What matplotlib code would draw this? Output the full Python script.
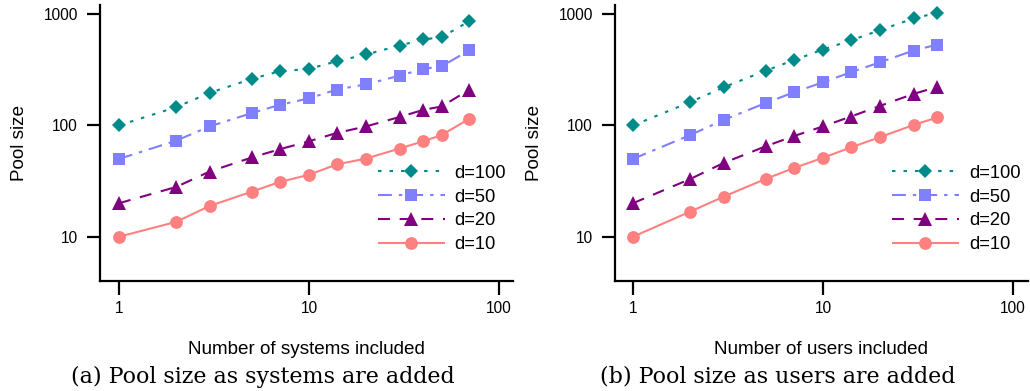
import matplotlib
matplotlib.use("Agg")
import matplotlib.pyplot as plt

# ---------------- data ----------------
series_labels = ["d=100", "d=50", "d=20", "d=10"]

systems_x = [1, 2, 3, 5, 7, 10, 14, 20, 30, 40, 50, 70]
sys_d100 = [100, 146, 196, 262, 306, 322, 377, 434, 522, 592, 621, 865]
sys_d50 = [50, 73, 98, 129, 153, 175, 210, 234, 280, 322, 340, 474]
sys_d20 = [20, 28, 38.5, 51.5, 61, 72, 85.5, 98, 119, 138, 148, 210]
sys_d10 = [10, 13.6, 18.9, 25.4, 31, 36, 44.6, 50.4, 62, 72, 82, 115]

users_x = [1, 2, 3, 5, 7, 10, 14, 20, 30, 40]
usr_d100 = [100, 162, 220, 311, 385, 481, 580, 718, 915, 1028]
usr_d50 = [50, 82, 112, 159, 198, 244, 300, 370, 471, 533]
usr_d20 = [20, 33, 46, 65, 80, 98, 120, 150, 192, 222]
usr_d10 = [10, 16.8, 22.9, 33.1, 41.3, 51.2, 63.4, 78.6, 101, 118]

x_ticks = [1, 10, 100]
x_tick_labels = ["1", "10", "100"]
y_ticks = [10, 100, 1000]
y_tick_labels = ["10", "100", "1000"]

xlabels = ["Number of systems included", "Number of users included"]
ylabel = "Pool size"
captions = ["(a) Pool size as systems are added", "(b) Pool size as users are added"]

# ---------------- style ----------------
plt.rcParams["font.family"] = ["Liberation Sans", "DejaVu Sans"]
plt.rcParams["lines.scale_dashes"] = False

styles = [
    dict(color="#008B8B", marker="D", ms=6.8, dashes=(2.5, 5.8)),
    dict(color="#8080FF", marker="s", ms=9.0, dashes=(10, 5, 2.5, 5)),
    dict(color="#800080", marker="^", ms=9.5, dashes=(8.6, 7.0)),
    dict(color="#FF8080", marker="o", ms=9.2, dashes=None),
]

fig = plt.figure(figsize=(10.3, 3.91), dpi=100)
W, H = 1030, 391
axes_px = [(100, 5, 413, 276), (615, 5, 413, 276)]
xlims = [(0.794, 118.7), (0.804, 120.0)]
ylim = (4.0, 1208)

panels = [
    (systems_x, [sys_d100, sys_d50, sys_d20, sys_d10]),
    (users_x, [usr_d100, usr_d50, usr_d20, usr_d10]),
]
leg_x = [0.672, 0.670]
cap_x = [263, 778]

for i, (xs, ys_list) in enumerate(panels):
    l, t, w, h = axes_px[i]
    ax = fig.add_axes([l / W, (H - t - h) / H, w / W, h / H])
    for lab, ys, st in zip(series_labels, ys_list, styles):
        line, = ax.plot(xs, ys, color=st["color"], marker=st["marker"],
                        markersize=st["ms"], markeredgewidth=0,
                        linewidth=1.5, label=lab, solid_capstyle="butt",
                        dash_capstyle="butt")
        if st["dashes"] is not None:
            line.set_dashes(st["dashes"])
    ax.set_xscale("log")
    ax.set_yscale("log")
    ax.set_xlim(*xlims[i])
    ax.set_ylim(*ylim)
    ax.set_xticks(x_ticks, x_tick_labels)
    ax.set_yticks(y_ticks, y_tick_labels)
    ax.minorticks_off()
    for s in ("top", "right"):
        ax.spines[s].set_visible(False)
    for s in ("left", "bottom"):
        ax.spines[s].set_linewidth(1.6)
    ax.tick_params(axis="both", which="major", direction="out", width=1.6,
                   labelsize=11.2)
    ax.tick_params(axis="x", length=10, pad=4.5)
    ax.tick_params(axis="y", length=9.4, pad=6.5)
    ax.set_xlabel(xlabels[i], fontsize=13.6)
    ax.xaxis.set_label_coords(0.5, (281 - 349) / 276)
    ax.xaxis.label.set_verticalalignment("center")
    ax.set_ylabel(ylabel, fontsize=13.6)
    ax.yaxis.set_label_coords(-0.196, 0.5)
    ax.yaxis.label.set_verticalalignment("center")
    ax.legend(loc="center left", bbox_to_anchor=(leg_x[i], (281 - 209.0) / 276),
              frameon=False, fontsize=13.2, handlelength=3.66,
              handletextpad=0.55, labelspacing=0.37, borderpad=0,
              borderaxespad=0, numpoints=1)
    fig.text(cap_x[i] / W, 1 - 377 / H, captions[i], ha="center", va="center",
             fontsize=15.9, family="DejaVu Serif")

fig.savefig("out.png", dpi=100)
